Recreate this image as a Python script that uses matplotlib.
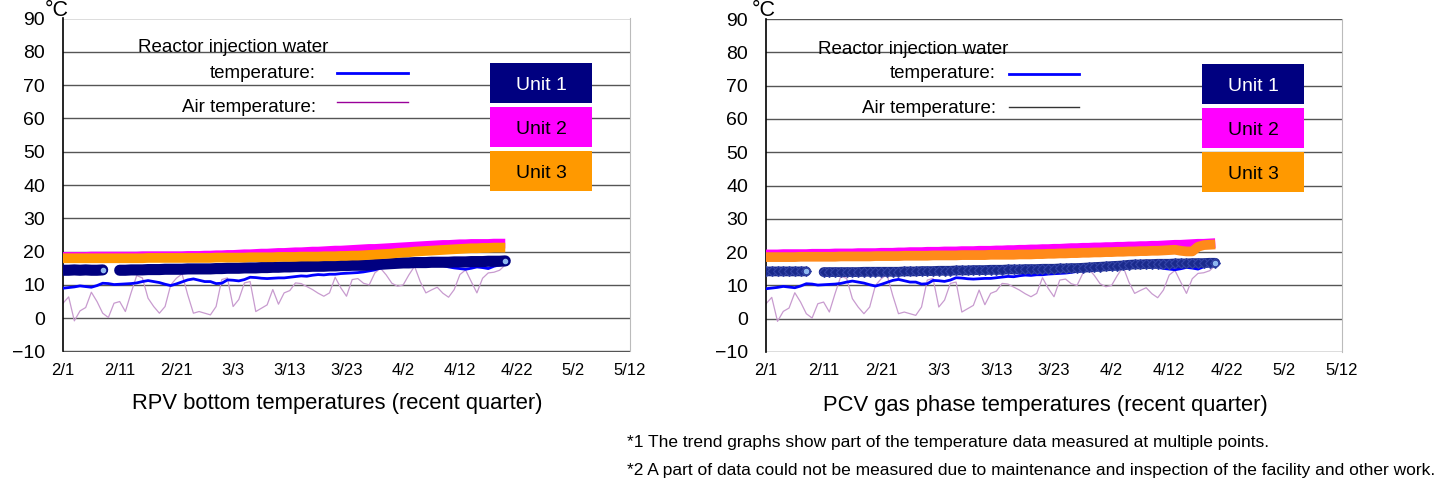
import numpy as np
import matplotlib
matplotlib.use("Agg")
import matplotlib.pyplot as plt
from matplotlib.lines import Line2D
from matplotlib.patches import Rectangle

plt.rcParams['font.family'] = ['Liberation Sans', 'DejaVu Sans']

# ---------------- data (day 0 = 2/1, daily up to 4/20) ----------------
tick_labels = ['2/1', '2/11', '2/21', '3/3', '3/13', '3/23', '4/2', '4/12', '4/22', '5/2', '5/12']
ytick_values = [-10, 0, 10, 20, 30, 40, 50, 60, 70, 80, 90]
nan = np.nan

injection_water = [9.0, 9.2, 9.4, 9.7, 9.5, 9.3, 9.8, 10.5, 10.4, 10.1,
                   10.2, 10.3, 10.4, 10.6, 11.0, 11.3, 11.0, 10.7, 10.2, 9.8,
                   10.3, 10.9, 11.5, 11.8, 11.4, 11.0, 11.0, 10.4, 10.5, 11.5,
                   11.4, 11.2, 11.6, 12.3, 12.2, 12.0, 11.9, 12.0, 12.1, 12.1,
                   12.3, 12.5, 12.7, 12.6, 12.9, 13.1, 13.0, 13.2, 13.2, 13.4,
                   13.5, 13.6, 13.7, 13.9, 14.2, 14.5, 15.1, 15.5, 16.0, 16.4,
                   16.6, 16.8, 16.9, 16.7, 16.3, 16.1, 15.9, 15.8, 15.4, 15.1,
                   14.9, 14.7, 15.0, 15.4, 15.2, 14.9, 15.6, 16.0, 16.3]

air_temperature = [4.5, 6.4, -0.8, 2.2, 3.2, 7.8, 5.0, 1.5, 0.2, 4.5,
                   5.0, 2.0, 7.6, 12.8, 12.1, 6.0, 3.5, 1.5, 3.5, 10.0,
                   12.0, 13.3, 7.0, 1.5, 2.0, 1.5, 1.0, 3.5, 11.6, 12.1,
                   3.5, 5.6, 10.6, 11.0, 2.0, 3.0, 4.0, 8.6, 4.2, 7.6,
                   8.3, 10.6, 10.4, 9.5, 8.6, 7.5, 6.6, 7.6, 12.3, 9.1,
                   6.6, 11.6, 11.9, 10.5, 10.0, 13.6, 15.0, 13.0, 10.5, 9.6,
                   10.0, 13.0, 15.6, 11.0, 7.6, 8.5, 9.3, 7.5, 6.3, 8.6,
                   13.1, 14.5, 11.0, 7.6, 12.0, 13.6, 13.8, 14.4, 16.0]

rpv_unit1 = [14.4, 14.4, 14.5, 14.4, 14.5, 14.4, 14.4, 14.5, nan, nan,
             14.4, 14.4, 14.5, 14.5, 14.5, 14.6, 14.6, 14.6, 14.7, 14.7,
             14.7, 14.7, 14.8, 14.8, 14.8, 14.8, 14.8, 14.9, 14.9, 15.0,
             15.0, 15.0, 15.1, 15.1, 15.1, 15.2, 15.2, 15.3, 15.3, 15.4,
             15.4, 15.5, 15.5, 15.5, 15.6, 15.6, 15.6, 15.7, 15.7, 15.8,
             15.8, 15.9, 15.9, 15.9, 16.0, 16.1, 16.2, 16.3, 16.4, 16.5,
             16.6, 16.6, 16.7, 16.7, 16.7, 16.8, 16.8, 16.8, 16.8, 16.9,
             16.9, 16.9, 17.0, 17.0, 17.0, 17.1, 17.1, 17.1, 17.2]

rpv_unit2 = [18.4, 18.4, 18.4, 18.4, 18.4, 18.5, 18.5, 18.5, 18.5, 18.5,
             18.5, 18.5, 18.5, 18.5, 18.6, 18.6, 18.6, 18.6, 18.6, 18.6,
             18.6, 18.6, 18.7, 18.7, 18.7, 18.8, 18.8, 18.9, 18.9, 19.0,
             19.0, 19.1, 19.2, 19.2, 19.3, 19.4, 19.4, 19.5, 19.6, 19.6,
             19.7, 19.8, 19.8, 19.9, 20.0, 20.0, 20.1, 20.2, 20.3, 20.3,
             20.4, 20.5, 20.6, 20.7, 20.8, 20.8, 20.9, 21.0, 21.1, 21.2,
             21.3, 21.4, 21.5, 21.6, 21.7, 21.8, 21.9, 22.0, 22.0, 22.1,
             22.2, 22.2, 22.3, 22.3, 22.3, 22.3, 22.4, 22.4, 22.4]

rpv_unit3 = [18.0, 18.0, 18.0, 18.0, 18.0, 18.0, 18.0, 18.0, 18.0, 18.0,
             18.0, 18.0, 18.0, 18.0, 18.0, 18.1, 18.1, 18.1, 18.1, 18.1,
             18.1, 18.1, 18.1, 18.1, 18.1, 18.1, 18.1, 18.2, 18.2, 18.2,
             18.2, 18.2, 18.2, 18.3, 18.3, 18.3, 18.3, 18.3, 18.4, 18.4,
             18.4, 18.4, 18.5, 18.5, 18.5, 18.5, 18.6, 18.6, 18.6, 18.7,
             18.7, 18.8, 18.8, 18.9, 19.0, 19.1, 19.2, 19.3, 19.4, 19.6,
             19.7, 19.8, 20.0, 20.1, 20.2, 20.3, 20.4, 20.5, 20.6, 20.7,
             20.8, 20.9, 21.0, 21.0, 21.1, 21.1, 21.2, 21.2, 21.2]

pcv_unit1 = [14.2, 14.2, 14.2, 14.2, 14.2, 14.2, 14.2, 14.2, nan, nan,
             14.0, 14.0, 14.0, 14.0, 14.0, 14.0, 14.0, 14.1, 14.1, 14.1,
             14.1, 14.1, 14.1, 14.1, 14.2, 14.2, 14.2, 14.3, 14.3, 14.3,
             14.4, 14.4, 14.4, 14.5, 14.5, 14.5, 14.6, 14.6, 14.6, 14.7,
             14.7, 14.7, 14.8, 14.8, 14.8, 14.9, 14.9, 14.9, 15.0, 15.0,
             15.0, 15.1, 15.1, 15.2, 15.2, 15.3, 15.4, 15.5, 15.6, 15.7,
             15.8, 15.9, 16.0, 16.2, 16.3, 16.3, 16.4, 16.4, 16.5, 16.5,
             16.5, 16.6, 16.6, 16.6, 16.7, 16.7, 16.7, 16.8, 16.8]

pcv_unit2 = [19.3, 19.3, 19.3, 19.4, 19.4, 19.4, 19.4, 19.4, 19.5, 19.5,
             19.5, 19.5, 19.6, 19.6, 19.6, 19.6, 19.7, 19.7, 19.7, 19.7,
             19.8, 19.8, 19.8, 19.9, 19.9, 20.0, 20.0, 20.0, 20.1, 20.1,
             20.1, 20.2, 20.2, 20.2, 20.3, 20.3, 20.3, 20.4, 20.4, 20.4,
             20.5, 20.5, 20.6, 20.6, 20.7, 20.7, 20.8, 20.8, 20.9, 20.9,
             21.0, 21.0, 21.1, 21.2, 21.2, 21.3, 21.3, 21.4, 21.4, 21.5,
             21.5, 21.6, 21.6, 21.7, 21.7, 21.8, 21.8, 21.9, 21.9, 22.0,
             22.1, 22.2, 22.2, 22.3, 22.4, 22.5, 22.5, 22.6, 22.7]

pcv_unit3 = [18.5, 18.5, 18.5, 18.5, 18.5, 18.5, 18.6, 18.6, 18.6, 18.6,
             18.6, 18.6, 18.6, 18.7, 18.7, 18.7, 18.7, 18.7, 18.7, 18.8,
             18.8, 18.8, 18.8, 18.8, 18.9, 18.9, 18.9, 18.9, 18.9, 19.0,
             19.0, 19.0, 19.0, 19.0, 19.1, 19.1, 19.1, 19.1, 19.1, 19.2,
             19.2, 19.2, 19.2, 19.2, 19.3, 19.3, 19.3, 19.4, 19.4, 19.5,
             19.5, 19.6, 19.6, 19.7, 19.7, 19.8, 19.8, 19.9, 19.9, 20.0,
             20.0, 20.1, 20.1, 20.2, 20.2, 20.3, 20.3, 20.4, 20.4, 20.5,
             20.6, 20.7, 20.4, 20.2, 20.2, 21.6, 22.1, 22.2, 22.3]

days = np.arange(len(injection_water))

# ---------------- layout helpers ----------------
W, H = 1439, 487
def fx(x):
    return x / W
def fy(y):
    return 1 - y / H

fig = plt.figure(figsize=(W / 100, H / 100), dpi=100)
fig.patch.set_facecolor('white')

NAVY = '#000080'
MAGENTA = '#FF00FF'
ORANGE = '#FF9900'
BLUE = '#0000FF'

def setup_axes(ax):
    ax.set_xlim(0, 100)
    ax.set_ylim(-10, 90)
    ax.set_xticks(np.arange(0, 101, 10))
    ax.set_xticklabels(tick_labels)
    ax.set_yticks(ytick_values)
    ax.set_yticklabels([str(v).replace('-', '\u2212') for v in ytick_values])
    for v in ytick_values:
        ax.axhline(v, color='#555555', lw=1.0, zorder=0.5)
    ax.spines['left'].set_color('black')
    ax.spines['left'].set_linewidth(1.2)
    ax.spines['right'].set_color('#BBBBBB')
    ax.spines['top'].set_visible(False)
    ax.spines['bottom'].set_visible(False)
    ax.tick_params(axis='x', length=0, pad=8, labelsize=12)
    ax.tick_params(axis='y', length=0, pad=13, labelsize=14)

def draw_unit1(ax, vals, face, light, textured):
    v = np.array(vals, dtype=float)
    if textured:
        ax.plot(days, v, color=face, lw=7, marker='D', ms=5, mfc=face, mec='#3444A8',
                mew=0.8, solid_capstyle='round', zorder=4)
    else:
        ax.plot(days, v, color=face, lw=8, solid_capstyle='round', zorder=4)
    ends = [i for i in range(len(v)) if not np.isnan(v[i]) and (i == len(v) - 1 or np.isnan(v[i + 1]))]
    ax.plot(days[ends], v[ends], ls='none', marker='o', ms=3, mfc=light, mec=light, zorder=5)

def draw_chart(ax, u1, u2, u3, orange_col, navy_col, air_col, textured):
    setup_axes(ax)
    ax.plot(days, air_temperature, color=air_col, lw=0.9, zorder=2)
    ax.plot(days, injection_water, color=BLUE, lw=2.0, zorder=3)
    draw_unit1(ax, u1, navy_col, '#8FB8F0', textured)
    ax.plot(days, u2, color=MAGENTA, lw=7, solid_capstyle='butt', zorder=4)
    ax.plot(days, u3, color=orange_col, lw=7, solid_capstyle='butt', zorder=4.5)

# Left chart: RPV bottom
axL = fig.add_axes([fx(63), fy(351.5), (630 - 63) / W, 333 / H])
draw_chart(axL, rpv_unit1, rpv_unit2, rpv_unit3, ORANGE, NAVY, '#C89BCF', False)
# Right chart: PCV gas phase
axR = fig.add_axes([fx(766), fy(352), (1342 - 766) / W, 333 / H])
draw_chart(axR, pcv_unit1, pcv_unit2, pcv_unit3, '#FF8A1A', '#1A2A8C', '#C89BCF', True)

# degree labels
fig.text(fx(57), fy(11), '°C', fontsize=15.5, ha='center', va='center')
fig.text(fx(764), fy(11), '°C', fontsize=15.5, ha='center', va='center')

# chart titles
fig.text(fx(337), fy(404), 'RPV bottom temperatures (recent quarter)', fontsize=15.8,
         ha='center', va='center')
fig.text(fx(1045), fy(406), 'PCV gas phase temperatures (recent quarter)', fontsize=15.8,
         ha='center', va='center')

# legend text & lines
def legend_block(x_text_left, x_right, line_x0, line_x1, y1, y2, y3, ly1, ly2, air_line_col):
    fig.text(fx(x_text_left), fy(y1), 'Reactor injection water', fontsize=13.5, ha='left', va='center')
    fig.text(fx(x_right), fy(y2), 'temperature:', fontsize=13.5, ha='right', va='center')
    fig.text(fx(x_right), fy(y3), 'Air temperature:', fontsize=13.5, ha='right', va='center')
    fig.add_artist(Line2D([fx(line_x0), fx(line_x1)], [fy(ly1), fy(ly1)], transform=fig.transFigure,
                          color=BLUE, lw=2))
    fig.add_artist(Line2D([fx(line_x0), fx(line_x1)], [fy(ly2), fy(ly2)], transform=fig.transFigure,
                          color=air_line_col, lw=1))

legend_block(138, 316, 337, 408, 48, 74, 108, 73, 102, '#990099')
legend_block(818, 996, 1009, 1079, 49, 74, 109, 74, 107, '#333333')

def unit_boxes(x0, x1, tops):
    specs = [('Unit 1', NAVY, 'white'), ('Unit 2', MAGENTA, 'black'), ('Unit 3', ORANGE, 'black')]
    for (lab, fc, tc), t in zip(specs, tops):
        fig.add_artist(Rectangle((fx(x0), fy(t + 40)), (x1 - x0) / W, 40 / H,
                                 transform=fig.transFigure, facecolor=fc, edgecolor='none'))
        fig.text(fx((x0 + x1) / 2), fy(t + 22), lab, fontsize=14, ha='center', va='center', color=tc)

unit_boxes(490, 592, [63, 107, 151])
unit_boxes(1202, 1304, [64, 108, 152])

# footnotes
fig.text(fx(627), fy(443), '*1 The trend graphs show part of the temperature data measured at multiple points.',
         fontsize=12.5, ha='left', va='center')
fig.text(fx(627), fy(470), '*2 A part of data could not be measured due to maintenance and inspection of the facility and other work.',
         fontsize=12.5, ha='left', va='center')

fig.savefig('out.png', dpi=100)
